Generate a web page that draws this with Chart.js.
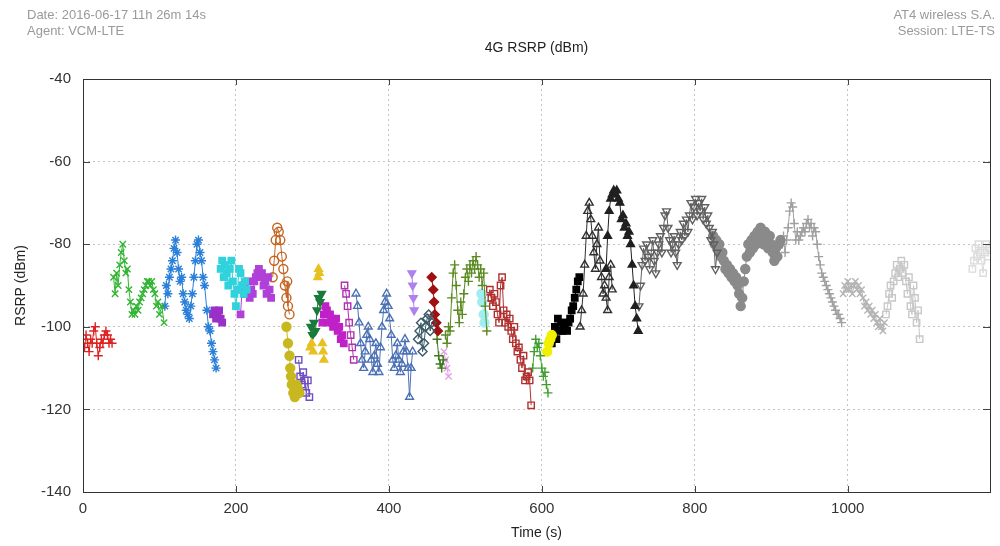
<!DOCTYPE html>
<html>
<head>
<meta charset="utf-8">
<script src="https://cdn.jsdelivr.net/npm/chart.js@4.4.1/dist/chart.umd.min.js"></script>
<style>
  html, body { margin: 0; padding: 0; background: #fff; }
  #wrap { width: 1000px; height: 546px; position: relative; }
</style>
</head>
<body>
<div id="wrap"><canvas id="rsrp"></canvas></div>
<script>
// axis ticks
const xTicks = [0, 200, 400, 600, 800, 1000];
const yTicks = [-140, -120, -100, -80, -60, -40];
const xMax = 1186;

// header / titles
const headerLeft = ['Date: 2016-06-17 11h 26m 14s', 'Agent: VCM-LTE'];
const headerRight = ['AT4 wireless S.A.', 'Session: LTE-TS'];
const chartTitle = '4G RSRP (dBm)';

// measured RSRP per cell, [time s, dBm]
const redPts = [[0,-103],[2,-105],[4,-102],[6,-104],[8,-106],[10,-103],[12,-104],[14,-101],[16,-100],[18,-104],[20,-107],[22,-105],[24,-103],[26,-104],[28,-102],[30,-101],[32,-102],[34,-104],[36,-103],[38,-104]];
const greenPts = [[40,-88],[42,-92],[44,-87],[46,-90],[48,-85],[50,-82],[52,-80],[54,-84],[56,-87],[58,-86],[60,-91],[62,-94],[64,-97],[66,-96],[68,-97],[70,-95],[72,-96],[74,-94],[76,-93],[78,-92],[80,-91],[82,-90],[84,-89],[86,-89],[88,-90],[90,-89],[92,-91],[94,-92],[96,-95],[98,-94],[100,-97],[103,-95],[106,-99]];
const bluePts = [[107,-95],[109,-90],[111,-92],[113,-88],[115,-86],[117,-84],[119,-81],[121,-79],[123,-82],[125,-86],[127,-89],[129,-88],[131,-92],[133,-94],[135,-96],[137,-97],[139,-98],[141,-95],[143,-92],[145,-88],[147,-84],[149,-80],[151,-79],[153,-82],[155,-84],[157,-88],[159,-90],[162,-96],[164,-100],[166,-101],[168,-104],[170,-106],[172,-108],[174,-110]];
const purplePts = [[170,-97],[172,-96],[174,-98],[176,-97],[178,-96],[180,-98],[182,-99]];
const cyanPts = [[180,-86],[182,-84],[184,-88],[186,-85],[188,-87],[190,-90],[192,-86],[194,-84],[196,-89],[198,-92],[200,-95],[202,-91],[204,-86],[206,-87],[208,-90],[210,-92],[212,-89],[214,-91]];
const violetPts = [[206,-97],[208,-91],[210,-90],[212,-92],[215,-89],[218,-93],[220,-91],[222,-92],[224,-89],[226,-88],[228,-87],[230,-86],[232,-88],[234,-87],[236,-90],[238,-89],[240,-92],[242,-88],[244,-91],[246,-93]];
const brownPts = [[248,-88],[250,-84],[252,-79],[254,-76],[256,-77],[258,-79],[260,-83],[262,-86],[264,-90],[266,-93],[267,-89],[268,-95],[270,-97]];
const olivePts = [[266,-100],[268,-104],[270,-107],[271,-110],[272,-112],[273,-114],[275,-116],[277,-117],[279,-114],[281,-115],[283,-116]];
const indigoPts = [[282,-108],[284,-112],[286,-114],[288,-111],[290,-113],[292,-116],[294,-113],[296,-117]];
const goldPts = [[297,-105],[299,-104],[301,-106],[307,-88],[308,-86],[309,-87],[313,-104],[314,-106],[315,-108]];
const darkGreenPts = [[298,-100],[300,-102],[302,-99],[304,-101],[306,-96],[308,-93],[310,-94],[312,-92]];
const magentaPts = [[313,-99],[315,-97],[317,-95],[319,-96],[321,-99],[323,-97],[325,-98],[327,-100],[329,-99],[331,-98],[333,-101],[335,-100],[337,-103],[339,-102],[341,-104]];
const magentaOpenPts = [[342,-90],[344,-92],[346,-95],[348,-99],[350,-102],[352,-105],[354,-108]];
const steelPts = [[357,-92],[359,-95],[361,-99],[363,-104],[365,-108],[367,-110],[369,-106],[371,-102],[373,-100],[375,-103],[377,-108],[379,-111],[381,-107],[383,-104],[385,-109],[387,-111],[389,-105],[391,-100],[393,-96],[395,-94],[397,-92],[399,-95],[401,-98],[403,-102],[405,-108],[407,-110],[409,-107],[411,-104],[413,-108],[415,-111],[417,-109],[419,-106],[421,-103],[423,-106],[425,-110],[427,-117],[429,-110],[431,-106]];
const lavenderPts = [[430,-87],[431,-90],[432,-93],[433,-96]];
const slatePts = [[438,-103],[440,-101],[442,-99],[444,-106],[446,-104],[448,-100],[450,-98],[452,-97],[454,-101],[456,-99]];
const maroonPts = [[456,-88],[458,-91],[459,-94],[460,-97],[462,-99],[464,-101]];
const mossPts = [[463,-103],[465,-107],[467,-109],[469,-110],[471,-108]];
const pinkPts = [[472,-106],[474,-108],[476,-110],[478,-112]];
const leafPts = [[474,-102],[476,-104],[478,-100],[480,-101],[482,-93],[484,-87],[486,-85],[488,-90],[490,-96],[492,-99],[494,-94],[496,-97],[498,-92],[500,-88],[502,-86],[504,-89],[506,-85],[508,-87],[510,-84],[512,-86],[514,-83],[516,-85],[518,-88],[520,-86],[522,-90],[524,-87],[526,-95],[528,-101]];
const paleCyanPts = [[521,-92],[522,-94],[524,-97],[525,-99]];
const rustPts = [[530,-93],[532,-91],[534,-93],[536,-95],[538,-92],[540,-94],[542,-97],[544,-99],[546,-90],[548,-88],[550,-96],[552,-99],[554,-97],[556,-100],[558,-98],[560,-101],[562,-103],[564,-100],[566,-104],[568,-106],[570,-105],[572,-108],[574,-110],[576,-107],[578,-113],[580,-112],[582,-111],[584,-113],[586,-119]];
const grassPts = [[588,-110],[590,-106],[592,-103],[594,-105],[596,-104],[598,-107],[600,-110],[602,-112],[604,-111],[606,-114],[608,-116]];
const yellowPts = [[607,-106],[609,-104],[611,-103],[613,-102]];
const blackPts = [[613,-104],[615,-102],[617,-100],[619,-103],[621,-98],[623,-101],[625,-99],[627,-101],[629,-100],[631,-99],[633,-101],[635,-99],[637,-98],[639,-96],[641,-95],[643,-93],[645,-91],[647,-89],[649,-88]];
const charcoalPts = [[650,-100],[652,-96],[654,-92],[656,-85],[658,-78],[660,-72],[662,-70],[664,-74],[666,-78],[668,-82],[670,-86],[672,-80],[674,-76],[676,-84],[678,-88],[680,-92],[682,-90],[684,-93],[686,-96],[688,-88],[690,-85],[692,-91]];
const blackTriPts = [[684,-86],[686,-78],[688,-72],[690,-69],[692,-68],[694,-67],[696,-68],[698,-67],[700,-69],[702,-70],[704,-74],[706,-73],[708,-76],[710,-75],[712,-78],[714,-77],[716,-80],[718,-85],[720,-90],[722,-95],[724,-98],[726,-101]];
const grayTriPts = [[727,-95],[729,-90],[731,-85],[733,-81],[735,-84],[737,-80],[739,-83],[741,-86],[743,-82],[745,-79],[747,-84],[749,-87],[751,-82],[753,-80],[755,-78],[757,-82],[759,-76],[761,-73],[763,-72],[765,-76],[767,-79],[769,-82],[771,-80],[773,-78],[775,-82],[777,-85],[779,-80],[781,-77],[783,-79],[785,-75],[787,-78],[789,-74],[791,-77],[793,-73],[795,-70],[797,-74],[799,-71],[801,-69],[803,-73],[805,-70],[807,-72],[809,-69],[811,-74],[813,-71],[815,-75],[817,-73],[819,-76],[821,-79],[823,-77],[825,-80],[827,-86],[829,-82]];
const grayDotPts = [[824,-78],[826,-80],[828,-79],[830,-81],[832,-80],[834,-83],[836,-82],[838,-84],[840,-86],[842,-85],[844,-87],[846,-86],[848,-88],[850,-87],[852,-89],[854,-88],[856,-90],[858,-92],[860,-95],[862,-93],[864,-89],[866,-86],[868,-83],[870,-80],[872,-82],[874,-79],[876,-81],[878,-78],[880,-80],[882,-77],[884,-79],[886,-76],[888,-78],[890,-80],[892,-77],[894,-79],[896,-81],[898,-78],[900,-80],[902,-82],[904,-84],[906,-81],[908,-83],[910,-80],[912,-79]];
const silverPts = [[914,-80],[916,-78],[918,-82],[920,-79],[922,-76],[924,-72],[926,-70],[928,-71],[930,-75],[932,-79],[934,-77],[936,-79],[938,-78],[940,-77],[942,-76],[944,-77],[946,-75],[948,-74],[950,-76],[952,-75],[954,-78],[956,-76],[958,-77],[960,-80],[962,-83],[964,-85],[966,-87],[968,-88],[970,-89],[972,-90],[974,-91],[976,-92],[978,-93],[980,-94],[982,-95],[984,-96],[986,-97],[988,-97],[990,-98],[992,-99]];
const ashPts = [[994,-92],[996,-90],[998,-91],[1000,-89],[1002,-91],[1004,-90],[1006,-92],[1008,-90],[1010,-89],[1012,-91],[1014,-90],[1016,-92],[1018,-91],[1020,-93],[1022,-95],[1024,-94],[1026,-96],[1028,-95],[1030,-97],[1032,-96],[1034,-98],[1036,-97],[1038,-99],[1040,-100],[1042,-98],[1044,-100],[1046,-101],[1048,-99]];
const mistPts = [[1050,-97],[1052,-95],[1054,-92],[1056,-90],[1058,-93],[1060,-89],[1062,-87],[1064,-85],[1066,-88],[1068,-86],[1070,-84],[1072,-87],[1074,-85],[1076,-89],[1078,-92],[1080,-88],[1082,-95],[1084,-97],[1086,-90],[1088,-93],[1090,-99],[1092,-96],[1094,-103]];
const fogPts = [[1163,-86],[1165,-84],[1167,-81],[1169,-83],[1171,-80],[1173,-82],[1175,-84],[1177,-87],[1179,-82],[1181,-80],[1183,-83],[1185,-81]];

// look of each cell trace
const traces = [
    { pts: redPts,        color: '#dd2222', shape: 'cross',    fill: false },
    { pts: greenPts,      color: '#33b533', shape: 'crossRot', fill: false },
    { pts: bluePts,       color: '#2a7fd8', shape: 'star',     fill: false },
    { pts: purplePts,     color: '#9a30c8', shape: 'rect',     fill: true  },
    { pts: cyanPts,       color: '#30d2dc', shape: 'rect',     fill: true  },
    { pts: violetPts,     color: '#b040d8', shape: 'rect',     fill: true  },
    { pts: brownPts,      color: '#c46420', shape: 'circle',   fill: false },
    { pts: olivePts,      color: '#c8b820', shape: 'circle',   fill: true  },
    { pts: indigoPts,     color: '#7050c0', shape: 'rect',     fill: false },
    { pts: goldPts,       color: '#e8c020', shape: 'triangle', fill: true, noLine: true },
    { pts: darkGreenPts,  color: '#1a7a3a', shape: 'triangle', fill: true, flip: true },
    { pts: magentaPts,    color: '#c020c8', shape: 'rect',     fill: true  },
    { pts: magentaOpenPts,color: '#b030b0', shape: 'rect',     fill: false },
    { pts: steelPts,      color: '#4a70b4', shape: 'triangle', fill: false },
    { pts: lavenderPts,   color: '#b080f0', shape: 'triangle', fill: true, flip: true },
    { pts: slatePts,      color: '#3a5a68', shape: 'rectRot',  fill: false },
    { pts: maroonPts,     color: '#a01010', shape: 'rectRot',  fill: true  },
    { pts: mossPts,       color: '#3a7a1a', shape: 'cross',    fill: false },
    { pts: pinkPts,       color: '#e8a0e8', shape: 'crossRot', fill: false },
    { pts: leafPts,       color: '#5a8a20', shape: 'cross',    fill: false },
    { pts: paleCyanPts,   color: '#a0eef0', shape: 'circle',   fill: true  },
    { pts: rustPts,       color: '#b03030', shape: 'rect',     fill: false },
    { pts: grassPts,      color: '#40a030', shape: 'cross',    fill: false },
    { pts: yellowPts,     color: '#f0f000', shape: 'circle',   fill: true  },
    { pts: blackPts,      color: '#000000', shape: 'rect',     fill: true  },
    { pts: charcoalPts,   color: '#303030', shape: 'triangle', fill: false },
    { pts: blackTriPts,   color: '#202020', shape: 'triangle', fill: true  },
    { pts: grayTriPts,    color: '#606060', shape: 'triangle', fill: false, flip: true },
    { pts: grayDotPts,    color: '#8a8a8a', shape: 'circle',   fill: true  },
    { pts: silverPts,     color: '#a0a0a0', shape: 'cross',    fill: false },
    { pts: ashPts,        color: '#b4b4b4', shape: 'crossRot', fill: false },
    { pts: mistPts,       color: '#c8c8c8', shape: 'rect',     fill: false },
    { pts: fogPts,        color: '#dcdcdc', shape: 'rect',     fill: false }
];

const datasets = traces.map(tr => ({
    data: tr.pts.map(p => ({ x: p[0], y: p[1] })),
    showLine: !tr.noLine,
    borderColor: tr.color,
    borderWidth: 1,
    pointStyle: tr.shape,
    pointRotation: tr.flip ? 180 : 0,
    pointRadius: 4.5,
    pointBorderWidth: 1.4,
    pointBorderColor: tr.color,
    pointBackgroundColor: tr.fill ? tr.color : 'rgba(0,0,0,0)'
}));

// header text, title, frame and inward tick marks (gnuplot look)
const framePlugin = {
    id: 'frame',
    beforeDraw(chart) {
        const ctx = chart.ctx;
        const area = chart.chartArea;
        ctx.save();
        ctx.fillStyle = '#9a9a9a';
        ctx.font = '13px "Liberation Sans", Arial, sans-serif';
        ctx.textBaseline = 'middle';
        ctx.textAlign = 'left';
        ctx.fillText(headerLeft[0], 27, 15);
        ctx.fillText(headerLeft[1], 27, 31);
        ctx.textAlign = 'right';
        ctx.fillText(headerRight[0], 995, 15);
        ctx.fillText(headerRight[1], 995, 31);
        ctx.fillStyle = '#222';
        ctx.font = '14px "Liberation Sans", Arial, sans-serif';
        ctx.textAlign = 'center';
        ctx.fillText(chartTitle, (area.left + area.right) / 2, 48);
        ctx.restore();
    },
    afterDraw(chart) {
        const ctx = chart.ctx;
        const area = chart.chartArea;
        const xs = chart.scales.x;
        const ys = chart.scales.y;
        ctx.save();
        ctx.strokeStyle = '#444';
        ctx.lineWidth = 1;
        ctx.beginPath();
        xTicks.forEach(v => {
            const px = Math.round(xs.getPixelForValue(v)) + 0.5;
            ctx.moveTo(px, area.bottom); ctx.lineTo(px, area.bottom - 6);
            ctx.moveTo(px, area.top); ctx.lineTo(px, area.top + 6);
        });
        yTicks.forEach(v => {
            const py = Math.round(ys.getPixelForValue(v)) + 0.5;
            ctx.moveTo(area.left, py); ctx.lineTo(area.left + 7, py);
            ctx.moveTo(area.right, py); ctx.lineTo(area.right - 7, py);
        });
        ctx.stroke();
        ctx.strokeStyle = '#333';
        ctx.strokeRect(Math.round(area.left) + 0.5, Math.round(area.top) + 0.5,
            Math.round(area.right - area.left), Math.round(area.bottom - area.top));
        ctx.restore();
    }
};

const tickFont = { family: '"Liberation Sans", Arial, sans-serif', size: 15 };
const titleFont = { family: '"Liberation Sans", Arial, sans-serif', size: 14 };

new Chart(document.getElementById('rsrp'), {
    type: 'scatter',
    data: { datasets: datasets },
    options: {
        responsive: true,
        maintainAspectRatio: false,
        animation: false,
        layout: { padding: { top: 79, left: 9, right: 10, bottom: 0 } },
        plugins: {
            legend: { display: false },
            tooltip: { enabled: false }
        },
        scales: {
            x: {
                type: 'linear',
                min: 0,
                max: xMax,
                afterFit: s => { s.height = 54; },
                afterBuildTicks: s => { s.ticks = xTicks.map(v => ({ value: v })); },
                ticks: { font: tickFont, color: '#333', padding: 8, callback: v => String(v) },
                grid: { color: '#c4c4c4', drawTicks: false },
                border: { display: false, dash: [2, 3] },
                title: { display: true, text: 'Time (s)', font: titleFont, color: '#222' }
            },
            y: {
                type: 'linear',
                min: -140,
                max: -40,
                afterFit: s => { s.width = 74; },
                afterBuildTicks: s => { s.ticks = yTicks.map(v => ({ value: v })); },
                ticks: { font: tickFont, color: '#333', padding: 12 },
                grid: { color: '#c4c4c4', drawTicks: false },
                border: { display: false, dash: [2, 3] },
                title: { display: true, text: 'RSRP (dBm)', font: titleFont, color: '#222' }
            }
        }
    },
    plugins: [framePlugin]
});
</script>
</body>
</html>
